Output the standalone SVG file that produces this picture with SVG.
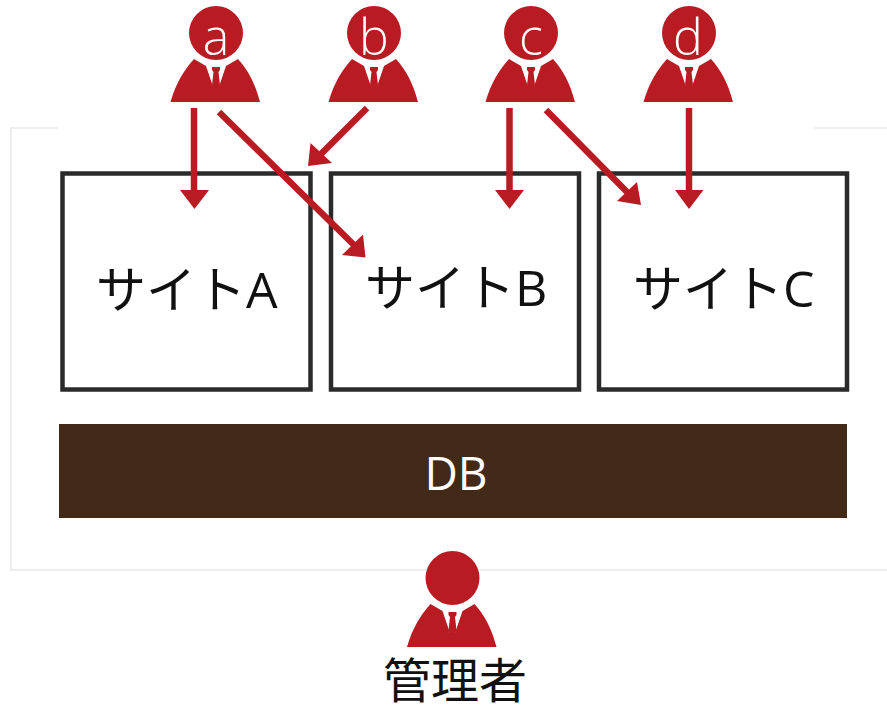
<svg xmlns="http://www.w3.org/2000/svg" width="887" height="712" viewBox="0 0 887 712">
<style>
.box{fill:#fff;stroke:#2b2b2b;stroke-width:4.5}
.frame{fill:none;stroke:#e9e9e9;stroke-width:1.5}
.red{fill:#b81c22}
.ar{stroke:#b81c22;stroke-width:6.500;fill:none}
.lab{font-family:"Open Sans","Noto Sans CJK JP",sans-serif;font-weight:400;fill:#111;font-size:50px}
.let{font-family:"Open Sans",sans-serif;font-weight:300;fill:#fff;font-size:50px;text-anchor:middle}
</style>
<defs>
<g id="person">
<circle class="red" cx="0" cy="0" r="27"/>
<path class="red" d="M-45.500 69C-40 50-32 37-22 26L-10 33L-2.500 55L2.500 55L10 33L22 26C32 37 39 50 44 69Z"/>
<path class="red" d="M-4 34L4 34L4 37L2.500 39L4 52L2.500 56L-2.500 56L-4 52L-2.500 39L-4 37Z"/>
</g>
</defs>
<rect width="887" height="712" fill="#fff"/>
<path class="frame" d="M59 128H11V570H887M814 128H887"/>
<g id="site-a"><rect class="box" x="62.500" y="173.500" width="248" height="216"/><text class="lab" x="96" y="308">サイトA</text></g>
<g id="site-b"><rect class="box" x="331" y="173.500" width="248" height="216"/><text class="lab" x="365" y="306">サイトB</text></g>
<g id="site-c"><rect class="box" x="599" y="173.500" width="248" height="216"/><text class="lab" x="633" y="307">サイトC</text></g>
<g id="db"><rect x="59" y="424" width="788" height="94" fill="#432918"/><text x="456" y="490" font-family="Open Sans,sans-serif" font-weight="400" font-size="46" fill="#fff" text-anchor="middle">DB</text></g>
<g id="connectors">
<path class="ar" d="M194 108V192"/><path class="red" d="M180 190H209L194.500 209Z"/>
<path class="ar" d="M219 112L354 245"/><path class="red" d="M342 255L365.500 257.500L363 234.500Z"/>
<path class="ar" d="M367 108L320 155"/><path class="red" d="M308 166L332 163L310.500 143Z"/>
<path class="ar" d="M509.500 108V192"/><path class="red" d="M495 190H524L509.500 209Z"/>
<path class="ar" d="M546 110L628 193"/><path class="red" d="M617 201L641 205L637 182Z"/>
<path class="ar" d="M689 108V192"/><path class="red" d="M675 190H703.500L689 209Z"/>
</g>
<g id="user-a"><use href="#person" x="216" y="33"/><text class="let" x="216" y="55">a</text></g>
<g id="user-b"><use href="#person" x="374" y="33"/><text class="let" x="374" y="55">b</text></g>
<g id="user-c"><use href="#person" x="531" y="33"/><text class="let" x="531" y="55">c</text></g>
<g id="user-d"><use href="#person" x="689" y="33"/><text class="let" x="688" y="55">d</text></g>
<g id="admin"><use href="#person" x="452.500" y="578"/><text x="455" y="698" font-family="Noto Sans CJK JP,sans-serif" font-weight="400" font-size="48" fill="#111" text-anchor="middle">管理者</text></g>
</svg>
